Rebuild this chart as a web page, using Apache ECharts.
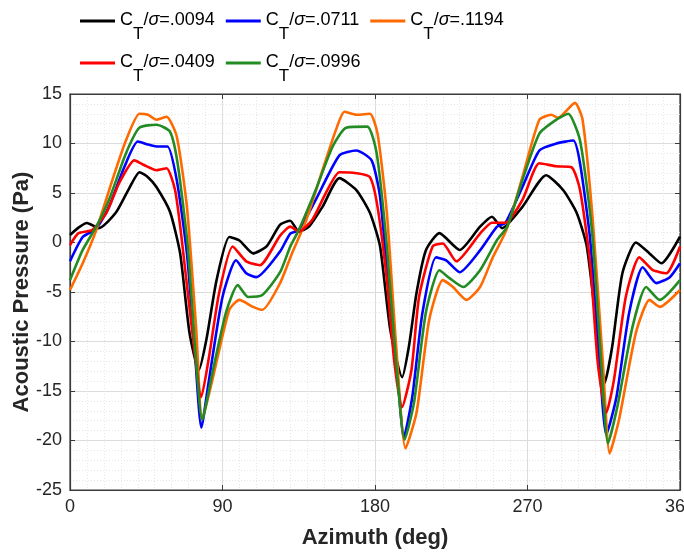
<!DOCTYPE html>
<html><head><meta charset="utf-8">
<script src="https://cdn.jsdelivr.net/npm/echarts@6.0.0/dist/echarts.min.js"></script>
<style>html,body{margin:0;padding:0;background:#fff}#c{width:684px;height:554px}</style>
</head><body><div id="c"></div>
<script>
// Tick labels
const xTicks = [0, 90, 180, 270, 360];
const yTicks = [-25, -20, -15, -10, -5, 0, 5, 10, 15];
// Legend ratios (C_T/sigma)
const ratios = ['.0094', '.0711', '.1194', '.0409', '.0996'];
const colors = ['#000000', '#0000ff', '#ff6a00', '#ff0000', '#228b22'];

// [azimuth deg, pressure Pa]
const s0094 = [[0,0.75],[5,1.5],[10,1.97],[17,1.45],[27,3.0],[35,5.5],[41,7.1],[46,6.6],[51,5.6],[59,3.1],[65,-1.1],[70.5,-9.1],[76,-12.9],[80.5,-9.8],[86.5,-3.8],[94,0.55],[100,0.2],[108,-1.1],[116,-0.4],[124,1.8],[130,2.2],[135,1.1],[141,1.6],[149,3.6],[159,6.5],[169,5.3],[177,3.0],[183,-0.4],[189,-8.8],[196,-13.6],[200,-10.5],[204.5,-5.1],[210,-0.8],[218,0.95],[230,-0.75],[242,1.6],[249,2.6],[255,1.45],[267,3.6],[281,6.8],[291,5.3],[299,3.0],[305,-0.4],[311,-8.8],[315.5,-14.2],[320,-10.5],[326,-3.1],[334,0],[342,-1.1],[349,-2.1],[360,0.6]];
const s0711 = [[0,-1.9],[7.5,0.55],[15.5,1.4],[23,3.6],[32,7.6],[40,10.2],[46,9.9],[51,9.7],[57.5,9.7],[63,6.3],[69,-1.1],[73.5,-10.5],[77.5,-18.7],[82,-13.9],[90,-5.5],[98,-1.8],[104,-3.1],[110,-3.5],[124,-0.9],[130,0.9],[135,1.25],[145,4.3],[159,8.8],[169,9.3],[178,8.3],[183,4.6],[188.5,-5.5],[193.5,-13.9],[197,-19.7],[202,-15.6],[208,-7.1],[216,-1.5],[222,-1.8],[230,-3.0],[242,-0.8],[252,1.6],[257,2.0],[267,5.6],[277,9.3],[287,10.0],[297,10.3],[301,8.0],[307,0.25],[312.5,-12.2],[316.5,-19.4],[322.5,-15.6],[330,-7.1],[338,-2.5],[346,-4.1],[354,-3.5],[360,-2.1]];
const s1194 = [[0,-4.8],[7.5,-2.1],[15.5,1.25],[25,6.3],[33,10.3],[41,13.0],[46,12.9],[51,12.4],[57,12.7],[63,10.7],[69,3.6],[74.5,-8.8],[78,-17.9],[84,-13.9],[94,-6.8],[100,-5.8],[108,-6.5],[113.5,-6.8],[124,-4.1],[131,-1.1],[139.5,2.3],[149,7.3],[157,11.4],[162,13.2],[169,12.9],[177,13.0],[181.5,11.0],[187,3.0],[192.5,-10.5],[198,-20.8],[204.5,-17.2],[212,-7.8],[220,-3.8],[226,-4.5],[234,-5.8],[242,-4.5],[249.5,-1.5],[257.5,1.25],[267,6.6],[277,12.4],[284,12.9],[288,12.6],[298,14.1],[302.5,12.4],[308.5,2.3],[314.5,-12.2],[318.5,-21.3],[324,-17.9],[334,-9.1],[342,-5.8],[348,-6.5],[360,-4.8]];
const s0409 = [[0,-0.25],[5,0.95],[13,1.25],[21.5,3.0],[29,6.0],[38,8.3],[44,7.8],[51,7.3],[57,7.5],[62,5.3],[66,0.25],[72,-8.8],[77.5,-15.6],[82,-11.6],[88,-5.1],[96,-0.4],[104,-1.9],[112,-2.3],[124,0.7],[130,1.6],[135,1.1],[143,2.3],[151,5.0],[159,7.1],[169,7.0],[177,6.6],[181.5,3.6],[187,-3.8],[191.5,-12.2],[196,-16.6],[201.5,-12.9],[206,-5.5],[214,-0.4],[220,-0.1],[228,-1.9],[242,0.9],[249,2.0],[257,2.0],[267,4.3],[277,8.0],[287,7.7],[296,7.6],[301,5.3],[307,-2.1],[311.5,-12.2],[316.5,-17.2],[321,-13.9],[328,-5.5],[336,-1.5],[344,-2.8],[352,-3.1],[360,-0.4]];
const s0996 = [[0,-3.8],[7.5,-0.75],[15.5,1.6],[23,4.3],[33,9.0],[41,11.6],[51,11.9],[59,11.2],[63.5,8.0],[69.5,-0.4],[74.5,-12.2],[78,-17.9],[84,-13.2],[92,-7.1],[99,-4.3],[105,-5.5],[113.5,-5.3],[124,-3.0],[130,-0.4],[135,1.25],[145,5.3],[155,9.7],[163,11.6],[175.5,11.7],[181,9.0],[187,-0.4],[192.5,-12.2],[197.5,-19.9],[203,-16.2],[210,-7.1],[218,-2.8],[224,-3.6],[232,-4.5],[242,-2.8],[252,0.25],[258,1.6],[267,6.3],[277,11.0],[287,12.4],[294,13.0],[301,10.3],[308,1.25],[313.5,-12.2],[317.5,-20.3],[323,-16.6],[332,-8.5],[340,-4.5],[348,-5.8],[360,-3.8]];

const seriesData = [s0094, s0711, s1194, s0409, s0996];
const names = ratios.map(r => 'CT/σ=' + r);

const chart = echarts.init(document.getElementById('c'), null, {renderer: 'canvas'});
const FONT = 'Liberation Sans, Arial, sans-serif';
const rich = {
  n: {fontSize: 18, fontFamily: FONT, color: '#000', verticalAlign: 'top', lineHeight: 20},
  s: {fontSize: 17, fontFamily: FONT, color: '#000', verticalAlign: 'top', lineHeight: 20, padding: [15, 0, 0, 0]},
  i: {fontSize: 18, fontFamily: FONT, fontStyle: 'italic', color: '#000', verticalAlign: 'top', lineHeight: 20}
};
const fmt = name => {
  const r = name.split('=')[1];
  return '{n|C}{s|T}{n|/}{i|σ}{n|=' + r + '}';
};
const legendBase = {
  icon: 'rect', itemWidth: 35, itemHeight: 3, itemGap: 11, left: 75,
  orient: 'horizontal', formatter: fmt,
  textStyle: {rich: rich, fontSize: 18, fontFamily: FONT}
};
const axisLbl = {fontSize: 18, fontFamily: FONT, color: '#262626'};
const gridColor = '#dcdcdc';

chart.setOption({
  animation: false,
  backgroundColor: '#fff',
  grid: {left: 70, right: 4, top: 94, bottom: 64, show: true, borderColor: '#3a3a3a', borderWidth: 1.2, outerBoundsMode: 'none', containLabel: false},
  legend: [
    Object.assign({}, legendBase, {top: 6, data: [names[0], names[1], names[2]]}),
    Object.assign({}, legendBase, {top: 48, data: [names[3], names[4]]})
  ],
  xAxis: [{
    type: 'value', min: xTicks[0], max: xTicks[xTicks.length - 1], interval: 90,
    name: 'Azimuth (deg)', nameLocation: 'middle', nameGap: 37, nameMoveOverlap: false,
    nameTextStyle: {fontSize: 22, fontWeight: 'bold', fontFamily: FONT, color: '#262626'},
    axisLine: {show: true, onZero: false, lineStyle: {color: '#3a3a3a', width: 1.2}},
    axisTick: {show: true, inside: true, length: 5, lineStyle: {color: '#3a3a3a'}},
    axisLabel: Object.assign({margin: 8, showMaxLabel: true, hideOverlap: false}, axisLbl),
    splitLine: {show: true, lineStyle: {color: gridColor, width: 1}},
    minorTick: {show: false, splitNumber: 9},
    minorSplitLine: {show: true, lineStyle: {color: '#e6e6e6', type: [1, 2], width: 1}}
  }, {
    type: 'value', position: 'top', min: xTicks[0], max: xTicks[xTicks.length - 1], interval: 90,
    axisLine: {show: true, onZero: false, lineStyle: {color: '#3a3a3a', width: 1.2}},
    axisTick: {show: true, inside: true, length: 5, lineStyle: {color: '#3a3a3a'}},
    axisLabel: {show: false}, splitLine: {show: false}
  }],
  yAxis: [{
    type: 'value', min: yTicks[0], max: yTicks[yTicks.length - 1], interval: 5,
    name: 'Acoustic Pressure (Pa)', nameLocation: 'middle', nameGap: 37, nameRotate: 90, nameMoveOverlap: false,
    nameTextStyle: {fontSize: 22, fontWeight: 'bold', fontFamily: FONT, color: '#262626'},
    axisLine: {show: true, onZero: false, lineStyle: {color: '#3a3a3a', width: 1.2}},
    axisTick: {show: true, inside: true, length: 5, lineStyle: {color: '#3a3a3a'}},
    axisLabel: Object.assign({margin: 8}, axisLbl),
    splitLine: {show: true, lineStyle: {color: gridColor, width: 1}},
    minorTick: {show: false, splitNumber: 5},
    minorSplitLine: {show: true, lineStyle: {color: '#e6e6e6', type: [1, 2], width: 1}}
  }, {
    type: 'value', position: 'right', min: yTicks[0], max: yTicks[yTicks.length - 1], interval: 5,
    axisLine: {show: true, onZero: false, lineStyle: {color: '#3a3a3a', width: 1.2}},
    axisTick: {show: true, inside: true, length: 5, lineStyle: {color: '#3a3a3a'}},
    axisLabel: {show: false}, splitLine: {show: false}
  }],
  series: seriesData.map((d, k) => ({
    type: 'line', name: names[k], data: d, xAxisIndex: 0, yAxisIndex: 0,
    showSymbol: false, symbol: 'none', smooth: 0.2,
    color: colors[k],
    lineStyle: {color: colors[k], width: 2.6},
    emphasis: {disabled: true}
  }))
});
</script></body></html>
